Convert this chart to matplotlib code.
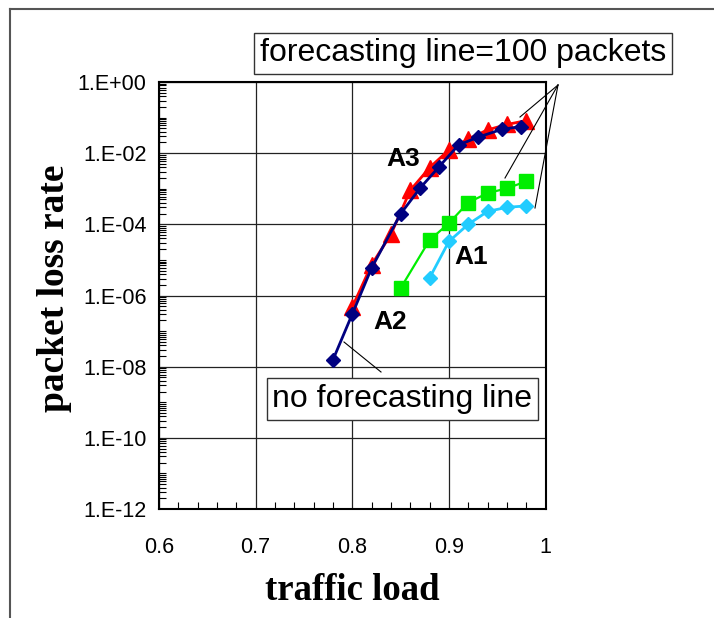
import matplotlib
matplotlib.use("Agg")
import matplotlib.pyplot as plt
from matplotlib.ticker import LogLocator, FixedLocator, NullFormatter, MultipleLocator
from matplotlib.lines import Line2D

# ---- data ----
load_none = [0.78, 0.80, 0.82, 0.85, 0.87, 0.89, 0.91, 0.93, 0.955, 0.975]
plr_none = [1.55e-8, 3.0e-7, 5.9e-6, 1.96e-4, 1.03e-3, 4.2e-3, 1.7e-2, 2.8e-2, 4.7e-2, 5.6e-2]

load_a3 = [0.80, 0.82, 0.84, 0.86, 0.88, 0.90, 0.92, 0.94, 0.96, 0.98]
plr_a3 = [4.7e-7, 7.3e-6, 5.2e-5, 9.0e-4, 3.9e-3, 1.23e-2, 2.5e-2, 4.5e-2, 6.4e-2, 8.2e-2]

load_a2 = [0.85, 0.88, 0.90, 0.92, 0.94, 0.96, 0.98]
plr_a2 = [1.6e-6, 3.6e-5, 1.07e-4, 4.1e-4, 7.5e-4, 1.03e-3, 1.6e-3]

load_a1 = [0.88, 0.90, 0.92, 0.94, 0.96, 0.98]
plr_a1 = [3.1e-6, 3.3e-5, 1.0e-4, 2.3e-4, 3.0e-4, 3.3e-4]

ytick_vals = [1e0, 1e-2, 1e-4, 1e-6, 1e-8, 1e-10, 1e-12]
ytick_labels = ["1.E+00", "1.E-02", "1.E-04", "1.E-06", "1.E-08", "1.E-10", "1.E-12"]
xtick_vals = [0.6, 0.7, 0.8, 0.9, 1.0]
xtick_labels = ["0.6", "0.7", "0.8", "0.9", "1"]

fig = plt.figure(figsize=(7.14, 6.18), dpi=100)
ax = fig.add_axes([159/714, 1-509/618, (545.5-159)/714, (509-82)/618])

sans = ["Liberation Sans", "DejaVu Sans"]
serif = ["Liberation Serif", "DejaVu Serif"]

ax.set_yscale("log")
ax.set_xlim(0.6, 1.0)
ax.set_ylim(1e-12, 1e0)

ax.plot(load_none, plr_none, color="#000080", lw=2, marker="D", ms=7, zorder=4)
ax.plot(load_a3, plr_a3, color="#ff0000", lw=2, marker="^", ms=11, zorder=3)
ax.plot(load_a2, plr_a2, color="#00ee00", lw=1.6, marker="s", ms=10, zorder=3)
ax.plot(load_a1, plr_a1, color="#22ccff", lw=2, marker="D", ms=7, zorder=3)

ax.xaxis.set_major_locator(FixedLocator(xtick_vals))
ax.set_xticklabels(xtick_labels, fontsize=15.5, family=sans)
ax.xaxis.set_minor_locator(MultipleLocator(0.02))
ax.yaxis.set_major_locator(FixedLocator(ytick_vals))
ax.set_yticklabels(ytick_labels, fontsize=15.5, family=sans)
ax.yaxis.set_minor_locator(LogLocator(base=10, subs=(1, 2, 3, 4, 5, 6, 7, 8, 9), numticks=100))
ax.yaxis.set_minor_formatter(NullFormatter())
ax.grid(True, which="major", color="#222222", lw=0.9)
ax.set_axisbelow(True)
ax.tick_params(axis="both", which="major", direction="in", length=0)
ax.tick_params(axis="y", which="minor", direction="in", length=5, width=0.8, left=True, right=False)
ax.tick_params(axis="x", which="minor", direction="in", length=5, width=0.8, bottom=True, top=False)
for s in ax.spines.values():
    s.set_linewidth(1.5)
    s.set_color("black")
ax.tick_params(axis="x", which="major", pad=20)
ax.tick_params(axis="y", which="major", pad=9)

ax.set_xlabel("traffic load", fontsize=26.5, fontweight="bold", family=serif, labelpad=11)
ax.set_ylabel("packet loss rate", fontsize=27, fontweight="bold", family=serif)
ax.yaxis.set_label_coords(-0.225, 0.518)

# curve labels
ax.text(0.8528, 7.0e-3, "A3", fontsize=19, fontweight="bold", family=sans, ha="center", va="center")
ax.text(0.9228, 1.17e-5, "A1", fontsize=19, fontweight="bold", family=sans, ha="center", va="center")
ax.text(0.8389, 1.8e-7, "A2", fontsize=19, fontweight="bold", family=sans, ha="center", va="center")

# annotation boxes (figure pixel coordinates)
def fx(px):
    return px / 714
def fy(py):
    return 1 - py / 618

fig.text(fx(463), fy(53.5), "forecasting line=100 packets", fontsize=23, family=sans,
         ha="center", va="center",
         bbox=dict(boxstyle="square,pad=0.18", fc="white", ec="#333333", lw=1))
fig.text(fx(402.5), fy(399), "no forecasting line", fontsize=23, family=sans,
         ha="center", va="center",
         bbox=dict(boxstyle="square,pad=0.18", fc="white", ec="#333333", lw=1))

# leader lines from the upper box to curve ends
src = (fx(558), fy(85))
for (px, py) in [(520, 117), (505, 178), (535, 208)]:
    fig.add_artist(Line2D([src[0], fx(px)], [src[1], fy(py)], color="black", lw=0.8))
fig.add_artist(Line2D([fx(344), fx(381)], [fy(342), fy(372)], color="black", lw=0.8))

# figure border (left and top)
fig.add_artist(Line2D([fx(9.5), fx(9.5)], [fy(8.5), 0], color="#555555", lw=1.5))
fig.add_artist(Line2D([fx(9.5), 1], [fy(8.5), fy(8.5)], color="#555555", lw=1.5))

fig.savefig("out.png", dpi=100)
